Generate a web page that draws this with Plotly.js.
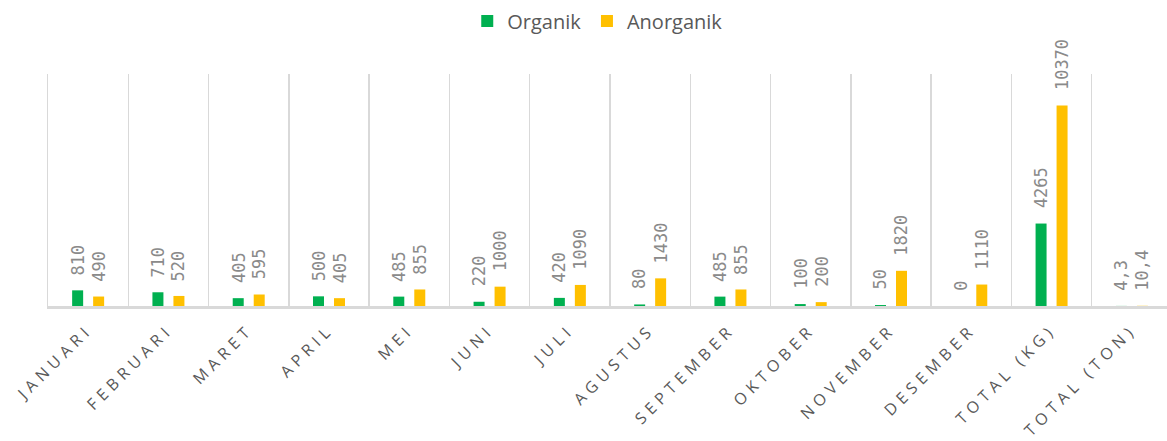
<!DOCTYPE html>
<html>
<head>
<meta charset="utf-8">
<script src="https://cdn.plot.ly/plotly-3.0.1.min.js"></script>
<style>
  html, body { margin: 0; padding: 0; overflow: hidden; background: #fff; }
  #chart { width: 1180px; height: 447px; margin-top: -5px; }
  .xtick text { letter-spacing: 5px; }
</style>
</head>
<body>
<div id="chart"></div>
<script>
const categories = ["JANUARI", "FEBRUARI", "MARET", "APRIL", "MEI", "JUNI", "JULI", "AGUSTUS",
  "SEPTEMBER", "OKTOBER", "NOVEMBER", "DESEMBER", "TOTAL (KG)", "TOTAL (TON)"];
const organik = [810, 710, 405, 500, 485, 220, 420, 80, 485, 100, 50, 0, 4265, 4.3];
const anorganik = [490, 520, 595, 405, 855, 1000, 1090, 1430, 855, 200, 1820, 1110, 10370, 10.4];

const seriesNames = ["Organik", "Anorganik"];
const seriesColors = ["#00B050", "#FFC000"];
const seriesValues = [organik, anorganik];

function fmt(v) { return String(v).replace('.', ','); }

const legendIds = ['legend', 'legend2'];
const traces = seriesValues.map((vals, i) => ({
  type: 'bar',
  name: seriesNames[i],
  x: categories,
  y: vals,
  legend: legendIds[i],
  marker: { color: seriesColors[i] },
  hoverinfo: 'x+y'
}));

const offsets = [-10.5, 10.5];
const annotations = [];
seriesValues.forEach((vals, i) => {
  vals.forEach((v, j) => {
    annotations.push({
      x: categories[j], y: v, xref: 'x', yref: 'y',
      text: fmt(v), showarrow: false, textangle: -90,
      xanchor: 'center', yanchor: 'bottom',
      xshift: offsets[i], yshift: 13,
      font: { family: 'DejaVu Sans Mono', size: 17, color: '#8a8a8a' }
    });
  });
});

const legendStyle = (x) => ({
  orientation: 'h', x: x, xanchor: 'left', y: 1.312, yanchor: 'top',
  font: { family: 'Open Sans', size: 20, color: '#595959' },
  bgcolor: 'rgba(0,0,0,0)'
});

const layout = {
  width: 1180, height: 447,
  margin: { l: 48, r: 8, t: 79, b: 136, autoexpand: false },
  paper_bgcolor: '#ffffff', plot_bgcolor: '#ffffff',
  barmode: 'group', bargap: 0.477, bargroupgap: 0.476,
  showlegend: true,
  legend: legendStyle(0.373),
  legend2: legendStyle(0.4795),
  xaxis: {
    type: 'category', tickson: 'boundaries', showgrid: true,
    gridcolor: '#d9d9d9', gridwidth: 1.5,
    showline: true, linecolor: '#d9d9d9', linewidth: 3,
    ticks: '', tickangle: -45, ticklabelstandoff: 5,
    tickfont: { family: 'Open Sans', size: 16, color: '#595959' },
    range: [-0.5, 13.5], fixedrange: true, automargin: false
  },
  yaxis: {
    range: [0, 12000], showgrid: false, zeroline: false,
    showline: true, linecolor: '#d9d9d9', linewidth: 1.5,
    showticklabels: false, ticks: '', fixedrange: true
  },
  annotations: annotations,
  font: { family: 'Open Sans', color: '#595959' }
};

Plotly.newPlot('chart', traces, layout, { displayModeBar: false, staticPlot: true });
</script>
</body>
</html>
